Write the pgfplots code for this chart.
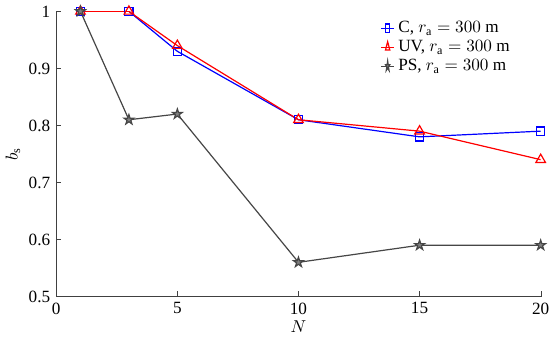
\documentclass[border=0pt]{standalone}
\usepackage{fontspec}
\setmainfont{Liberation Serif}
\usepackage{pgfplots}
\pgfplotsset{compat=1.18}
\definecolor{psgray}{RGB}{70,70,70}
\definecolor{cblue}{RGB}{0,0,255}
\definecolor{uvred}{RGB}{255,0,0}
\pgfdeclareplotmark{pentagram}{%
  \pgfpathmoveto{\pgfpointpolar{90}{\pgfplotmarksize}}%
  \pgfpathlineto{\pgfpointpolar{126}{0.382\pgfplotmarksize}}%
  \pgfpathlineto{\pgfpointpolar{162}{\pgfplotmarksize}}%
  \pgfpathlineto{\pgfpointpolar{198}{0.382\pgfplotmarksize}}%
  \pgfpathlineto{\pgfpointpolar{234}{\pgfplotmarksize}}%
  \pgfpathlineto{\pgfpointpolar{270}{0.382\pgfplotmarksize}}%
  \pgfpathlineto{\pgfpointpolar{306}{\pgfplotmarksize}}%
  \pgfpathlineto{\pgfpointpolar{342}{0.382\pgfplotmarksize}}%
  \pgfpathlineto{\pgfpointpolar{18}{\pgfplotmarksize}}%
  \pgfpathlineto{\pgfpointpolar{54}{0.382\pgfplotmarksize}}%
  \pgfpathclose
  \pgfusepathqfillstroke}
\begin{document}
\begin{tikzpicture}
\begin{axis}[
  scale only axis,
  width=282pt, height=166pt,
  xmin=0, xmax=20, ymin=0.5, ymax=1,
  xtick={0,5,10,15,20},
  ytick={0.5,0.6,0.7,0.8,0.9,1},
  axis lines=left,
  axis line style={-, draw=black!75},
  tick style={draw=black!75},
  tick align=inside,
  major tick length=3pt,
  /pgf/number format/assume math mode=true,
  ticklabel style={font=\normalsize},
  xlabel={$N$}, ylabel={$b_{\mathrm{s}}$},
  label style={font=\normalsize},
  xlabel style={yshift=3pt},
  ylabel style={yshift=-2pt},
  legend cell align=left,
  legend style={draw=none, fill=none, at={(0.665,0.985)}, anchor=north west, font=\normalsize, row sep=-1pt, inner sep=1pt},
  legend image post style={xscale=0.45},
]
\addplot[color=cblue, mark=square, mark size=2.4pt, line width=0.7pt, mark options={draw=cblue, solid}] coordinates {(1,1)(3,1)(5,0.93)(10,0.81)(15,0.78)(20,0.79)};
\addlegendentry{C, $r_{\mathrm{a}} = 300$ m}
\addplot[color=uvred, mark=triangle, mark size=3.2pt, line width=0.7pt, mark options={draw=uvred, solid}] coordinates {(1,1)(3,1)(5,0.94)(10,0.81)(15,0.79)(20,0.74)};
\addlegendentry{UV, $r_{\mathrm{a}} = 300$ m}
\addplot[color=psgray, mark=pentagram, mark size=3pt, line width=0.7pt, mark options={draw=psgray, fill=gray, solid}] coordinates {(1,1)(3,0.81)(5,0.82)(10,0.56)(15,0.59)(20,0.59)};
\addlegendentry{PS, $r_{\mathrm{a}} = 300$ m}
\end{axis}
\end{tikzpicture}
\end{document}
